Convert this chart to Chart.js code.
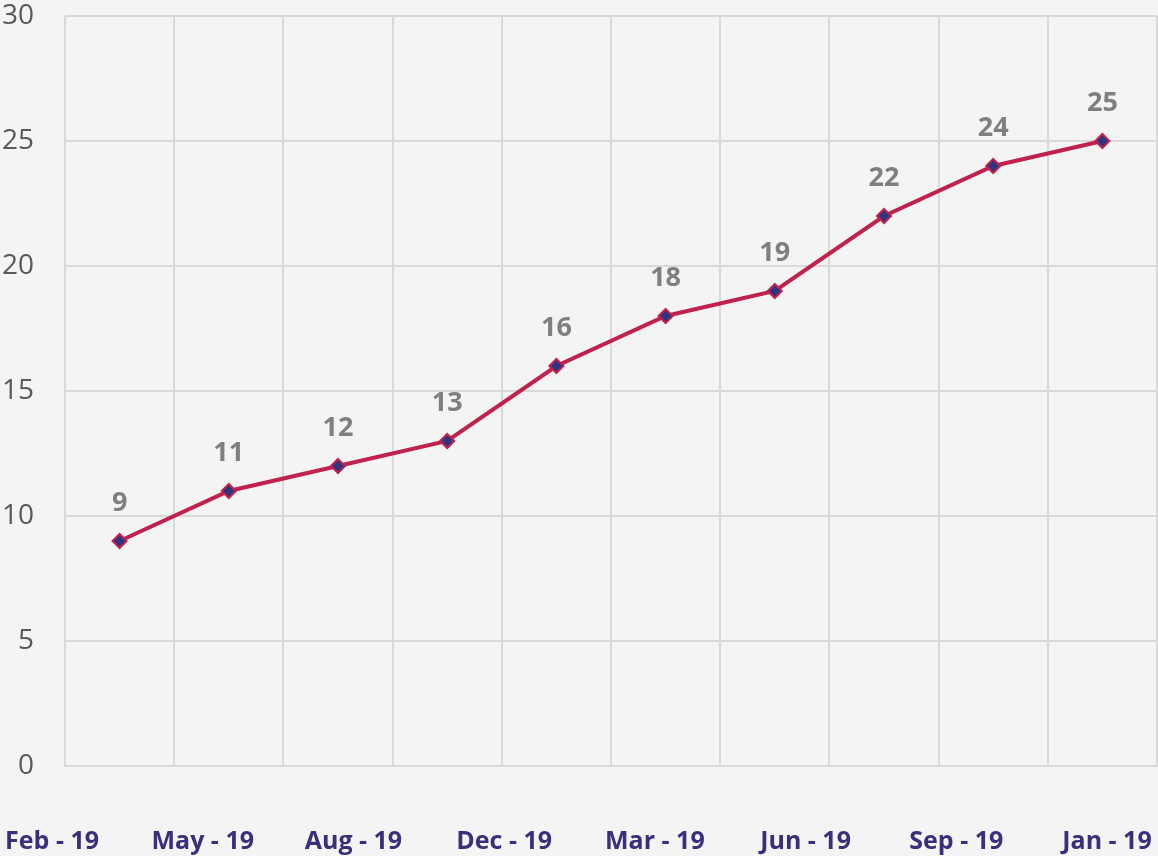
<!DOCTYPE html>
<html>
<head>
<meta charset="utf-8">
<script src="https://cdn.jsdelivr.net/npm/chart.js@4/dist/chart.umd.min.js"></script>
<style>
  html, body { margin: 0; padding: 0; background: #f4f4f4; }
  canvas { display: block; background: #f4f4f4; }
</style>
</head>
<body>
<canvas id="mycanvas" width="1158" height="856"></canvas>
<script>
// points of the line, one per band
var months = ['Feb 19', 'Apr 19', 'May 19', 'Jul 19', 'Aug 19', 'Oct 19', 'Dec 19', 'Feb 20', 'Mar 20', 'Jan 20'];
var counts = [9, 11, 12, 13, 16, 18, 19, 22, 24, 25];

// labels shown under the axis (they are not aligned with the points)
var xTickLabels = ['Feb - 19', 'May - 19', 'Aug - 19', 'Dec - 19', 'Mar - 19', 'Jun - 19', 'Sep - 19', 'Jan - 19'];
var yTicks = [0, 5, 10, 15, 20, 25, 30];

// draw the value above every point
var valueLabels = {
  id: 'valueLabels',
  afterDatasetsDraw: function(chart) {
    var ctx = chart.ctx;
    var meta = chart.getDatasetMeta(0);
    ctx.save();
    ctx.font = 'bold 27px "Open Sans"';
    ctx.fillStyle = '#7f7f7f';
    ctx.textAlign = 'center';
    ctx.textBaseline = 'middle';
    meta.data.forEach(function(pt, i) {
      ctx.fillText(counts[i], pt.x, pt.y - 38);
    });
    ctx.restore();
  }
};

var chartdata = {
  labels: months,
  datasets: [
    {
      label: 'count',
      data: counts,
      borderColor: '#c0214d',
      borderWidth: 4,
      tension: 0,
      pointStyle: 'rectRot',
      pointRadius: 7,
      pointBorderWidth: 2,
      pointBorderColor: '#c0214d',
      pointBackgroundColor: '#2d3480'
    }
  ]
};

var ctx = document.getElementById('mycanvas');

var lineGraph = new Chart(ctx, {
  type: 'line',
  data: chartdata,
  plugins: [valueLabels],
  options: {
    responsive: false,
    animation: false,
    layout: { autoPadding: false, padding: { top: 16, right: 1, bottom: 0, left: 0 } },
    plugins: {
      legend: { display: false },
      tooltip: { enabled: false }
    },
    scales: {
      x: {
        type: 'category',
        offset: true,
        grid: { offset: true, color: '#d9d9d9', lineWidth: 2, drawTicks: false },
        border: { color: '#d9d9d9', width: 2 },
        ticks: { display: false },
        afterFit: function(scale) { scale.paddingLeft = 0; scale.paddingRight = 0; }
      },
      x2: {
        type: 'linear',
        position: 'bottom',
        min: 0.086,
        max: 7.332,
        grid: { display: false },
        border: { display: false },
        afterBuildTicks: function(scale) {
          scale.ticks = xTickLabels.map(function(l, i) { return { value: i }; });
        },
        afterFit: function(scale) {
          scale.height = 90;
          scale.paddingLeft = 0;
          scale.paddingRight = 0;
        },
        ticks: {
          autoSkip: false,
          maxRotation: 0,
          padding: 53,
          color: '#3b2f7c',
          font: { family: '"Open Sans"', size: 25, weight: 'bold' },
          callback: function(v) { return xTickLabels[v]; }
        }
      },
      y: {
        min: 0,
        max: 30,
        afterBuildTicks: function(scale) {
          scale.ticks = yTicks.map(function(v) { return { value: v }; });
        },
        afterFit: function(scale) {
          scale.width = 65;
          scale.paddingTop = 0;
          scale.paddingBottom = 0;
        },
        grid: { color: '#d9d9d9', lineWidth: 2, drawTicks: false },
        border: { display: false },
        ticks: {
          padding: 31,
          color: '#595959',
          font: { family: '"Open Sans"', size: 28 }
        }
      }
    }
  }
});
</script>
</body>
</html>
